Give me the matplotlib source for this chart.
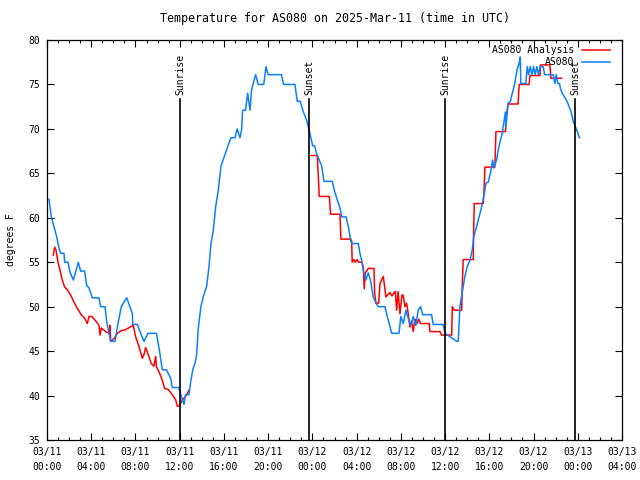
import numpy as np
import matplotlib
matplotlib.use('Agg')
import matplotlib.pyplot as plt
from matplotlib.lines import Line2D

# hours since 2025-03-11 00:00 UTC
blue_hours = [0.18, 0.39, 0.63, 0.87, 1.08, 1.24, 1.54, 1.6, 1.9, 2.08,
              2.38, 2.59, 2.83, 3.04, 3.4, 3.59, 3.8, 4.1, 4.7, 4.85,
              5.25, 5.4, 5.76, 6.15, 6.42, 6.72, 7.2, 7.5, 7.72, 7.75,
              8.17, 8.47, 8.77, 9.13, 9.9, 10.2, 10.43, 10.8, 11.2, 11.33,
              11.9, 12.08, 12.39, 12.54, 12.84, 13.0, 13.2, 13.38, 13.53, 13.68,
              13.92, 14.13, 14.44, 14.65, 14.83, 15.04, 15.25, 15.49, 15.73, 16.03,
              16.34, 16.64, 17.0, 17.2, 17.45, 17.6, 17.69, 17.95, 18.15, 18.36,
              18.5, 18.74, 18.87, 19.1, 19.6, 19.8, 20.0, 21.2, 21.4, 22.42,
              22.63, 22.9, 23.18, 23.48, 23.78, 24.02, 24.2, 24.38, 24.62, 24.84,
              25.05, 25.8, 25.98, 26.25, 26.5, 26.65, 27.05, 27.25, 27.46, 27.55,
              28.15, 28.3, 28.46, 28.6, 28.84, 29.05, 29.25, 29.5, 29.75, 29.96,
              30.56, 30.77, 30.95, 31.17, 31.83, 32.0, 32.22, 32.46, 32.67, 32.9,
              33.12, 33.35, 33.57, 33.78, 33.97, 34.78, 34.93, 35.83, 35.99, 37.05,
              37.19, 37.34, 37.59, 37.79, 38.0, 38.25, 38.46, 38.6, 38.85, 39.08,
              39.3, 39.5, 39.7, 39.9, 40.1, 40.3, 40.4, 40.66, 40.8, 40.96,
              41.17, 41.3, 41.46, 41.5, 41.7, 41.9, 42.1, 42.3, 42.5, 42.7,
              42.8, 42.85, 43.3, 43.43, 43.55, 43.7, 43.85, 44.0, 44.15, 44.3,
              44.45, 44.6, 44.88, 45.0, 45.78, 45.93, 46.05, 46.2, 46.35, 46.44,
              46.6, 46.9, 47.1, 47.4, 47.6, 47.9, 48.15]
blue_temp = [62.1, 60.1, 59.0, 57.9, 56.6, 56.0, 56.0, 55.0, 55.0, 53.9,
             53.0, 53.9, 55.0, 54.0, 54.0, 52.4, 52.1, 51.0, 51.0, 50.0,
             50.0, 48.3, 46.1, 46.1, 48.1, 50.0, 51.0, 50.0, 49.2, 48.0,
             48.0, 47.0, 46.1, 47.0, 47.0, 44.8, 42.9, 42.9, 41.9, 40.9,
             40.9, 40.2, 39.0, 40.1, 40.1, 41.6, 43.0, 43.6, 44.6, 47.6,
             50.0, 51.1, 52.3, 54.5, 57.1, 58.6, 61.2, 63.1, 65.8, 66.9,
             68.0, 69.0, 69.0, 70.0, 69.0, 69.9, 72.1, 72.1, 74.0, 72.1,
             74.4, 75.5, 76.1, 75.0, 75.0, 77.0, 76.1, 76.1, 75.0, 75.0,
             73.1, 73.1, 71.9, 71.0, 69.5, 68.1, 68.1, 67.2, 66.5, 65.8,
             64.1, 64.1, 63.1, 62.0, 61.1, 60.1, 60.1, 59.0, 57.5, 57.1,
             57.1, 56.0, 55.2, 54.1, 53.0, 53.8, 53.0, 51.1, 50.4, 50.0,
             50.0, 48.9, 48.1, 47.0, 47.0, 48.9, 48.1, 49.6, 48.7, 47.9,
             48.9, 47.9, 49.6, 50.0, 49.1, 49.1, 48.0, 48.0, 47.0, 46.1,
             46.1, 50.0, 51.9, 53.4, 54.5, 55.2, 56.4, 57.9, 59.0, 60.1,
             61.2, 62.4, 63.9, 64.0, 65.0, 66.5, 65.6, 66.5, 67.6, 68.5,
             69.5, 70.6, 71.9, 70.2, 72.9, 73.1, 74.1, 75.1, 76.6, 77.4,
             78.1, 75.1, 75.1, 77.0, 76.1, 77.0, 76.1, 77.0, 76.1, 77.0,
             76.1, 77.0, 77.0, 76.1, 76.1, 75.1, 76.1, 75.1, 75.1, 74.5,
             74.0, 73.4, 72.9, 71.9, 70.8, 69.9, 69.0]

red1_hours = [0.57, 0.69, 0.81, 0.99, 1.18, 1.38, 1.6, 1.84, 2.14, 2.44,
              2.74, 3.1, 3.41, 3.64, 3.8, 4.05, 4.4, 4.7, 4.79, 4.91,
              5.3, 5.6, 5.7, 5.76, 6.06, 6.36, 6.72, 7.1, 7.5, 7.8,
              8.02, 8.32, 8.62, 8.77, 8.92, 9.13, 9.43, 9.67, 9.83, 9.9,
              10.13, 10.43, 10.64, 10.94, 11.33, 11.64, 11.78, 11.93, 12.08, 12.23,
              12.39, 12.63, 12.84]
red1_temp = [55.8, 56.7, 56.4, 55.0, 54.1, 53.0, 52.2, 51.9, 51.3, 50.5,
             49.8, 49.1, 48.7, 48.1, 48.9, 48.9, 48.4, 47.9, 46.8, 47.6,
             47.2, 47.0, 47.9, 46.1, 46.4, 47.0, 47.3, 47.4, 47.7, 47.9,
             46.6, 45.5, 44.2, 44.6, 45.4, 44.7, 43.6, 43.3, 44.4, 43.2,
             42.7, 41.7, 40.8, 40.7, 40.1, 39.5, 38.8, 38.8, 39.1, 39.5,
             39.7, 40.1, 40.6]

red2_hours = [23.87, 24.44, 24.53, 24.62, 25.53, 25.65, 26.49, 26.58, 27.46, 27.55,
              27.6, 27.75, 27.9, 28.05, 28.2, 28.46, 28.6, 28.69, 28.78, 29.05,
              29.57, 29.63, 29.75, 30.0, 30.11, 30.25, 30.41, 30.56, 30.65, 30.8,
              31.01, 31.2, 31.4, 31.5, 31.62, 31.75, 31.92, 32.1, 32.22, 32.37,
              32.52, 32.67, 32.82, 32.97, 33.12, 33.27, 33.45, 33.62, 33.78, 34.57,
              34.63, 35.53, 35.69, 36.6, 36.65, 36.83, 37.5, 37.55, 37.64, 38.55,
              38.58, 38.64, 39.45, 39.54, 39.6, 40.5, 40.6, 41.47, 41.5, 41.7,
              42.6, 42.7, 43.6, 43.67, 44.58, 44.64, 45.48, 45.57, 46.54]
red2_temp = [67.0, 67.0, 64.8, 62.4, 62.4, 60.4, 60.4, 57.6, 57.6, 57.4,
             55.0, 55.3, 55.0, 55.3, 55.0, 55.0, 54.5, 52.0, 53.8, 54.3,
             54.3, 51.5, 50.4, 50.4, 52.6, 53.0, 53.4, 52.0, 51.1, 51.3,
             51.6, 51.2, 51.6, 51.7, 49.6, 51.7, 49.2, 51.3, 51.3, 50.0,
             50.4, 49.2, 47.7, 48.4, 47.2, 48.6, 48.1, 48.6, 48.1, 48.1,
             47.2, 47.2, 46.8, 46.8, 50.0, 49.6, 49.6, 52.2, 55.3, 55.3,
             58.4, 61.6, 61.6, 63.6, 65.7, 65.7, 69.7, 69.7, 71.0, 72.8,
             72.8, 75.0, 75.0, 76.0, 76.0, 77.2, 77.2, 75.7, 75.7]

sun_events = ['Sunrise', 'Sunset', 'Sunrise', 'Sunset']
sun_hours = [12.03, 23.7, 36.0, 47.75]

xtick_hours = list(range(0, 53, 4))
xtick_labels = ['03/11\n00:00', '03/11\n04:00', '03/11\n08:00', '03/11\n12:00',
                '03/11\n16:00', '03/11\n20:00', '03/12\n00:00', '03/12\n04:00',
                '03/12\n08:00', '03/12\n12:00', '03/12\n16:00', '03/12\n20:00',
                '03/13\n00:00', '03/13\n04:00']

plt.rcParams['font.family'] = 'DejaVu Sans Mono'
plt.rcParams['font.size'] = 7

fig = plt.figure(figsize=(6.4, 4.8), dpi=100)
ax = fig.add_axes([47 / 640, 40 / 480, 575 / 640, 400 / 480])

red = '#ff0000'
blue = '#0a80ff'
ax.plot(red1_hours, red1_temp, color=red, lw=1.1)
ax.plot(red2_hours, red2_temp, color=red, lw=1.1)
ax.plot(blue_hours, blue_temp, color=blue, lw=1.1)

for name, h in zip(sun_events, sun_hours):
    ax.plot([h, h], [35, 73.35], color='black', lw=1.2)
    ax.text(h, 73.8, name, rotation=90, ha='center', va='bottom')

ax.set_xlim(0, 52)
ax.set_ylim(35, 80)
ax.set_xticks(xtick_hours)
ax.set_xticklabels(xtick_labels, linespacing=1.6)
ax.set_xticks(np.arange(0, 53, 1), minor=True)
ax.set_yticks(range(35, 81, 5))
ax.tick_params(which='both', direction='in', top=True, right=True, width=0.8)
ax.tick_params(which='major', length=5, pad=5)
ax.tick_params(which='minor', length=2.5)
for s in ax.spines.values():
    s.set_linewidth(0.9)

ax.set_title('Temperature for AS080 on 2025-Mar-11 (time in UTC)', pad=13)
ax.set_ylabel('degrees F', labelpad=9)

# gnuplot style key in the top right corner
ax.text(0.9165, 0.976, 'AS080 Analysis', transform=ax.transAxes, ha='right', va='center')
ax.add_line(Line2D([0.930, 0.979], [0.976, 0.976], transform=ax.transAxes, color=red, lw=1.1))
ax.text(0.9165, 0.944, 'AS080', transform=ax.transAxes, ha='right', va='center')
ax.add_line(Line2D([0.930, 0.979], [0.944, 0.944], transform=ax.transAxes, color=blue, lw=1.1))

fig.savefig('out.png', dpi=100)
